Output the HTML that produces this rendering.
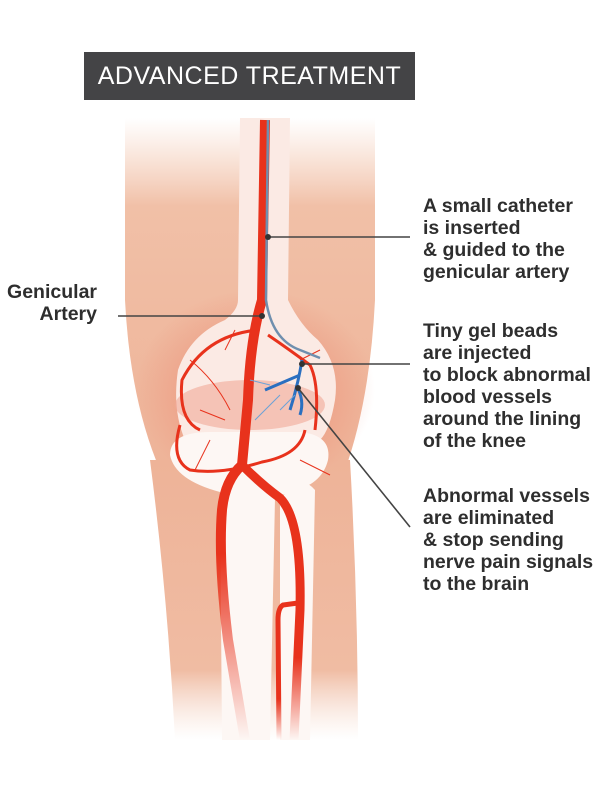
<!DOCTYPE html>
<html><head><style>
body{margin:0;width:600px;height:800px;background:#fff;position:relative;overflow:hidden;font-family:"Liberation Sans",sans-serif}
.t{position:absolute;font-weight:bold;font-size:19.5px;line-height:22px;color:#2e2e2e}
</style></head><body>
<svg width="600" height="800" style="position:absolute;left:0;top:0">
<defs>
<linearGradient id="fadeT" x1="0" y1="0" x2="0" y2="1"><stop offset="0" stop-color="#f3c9b3" stop-opacity="0"/><stop offset="0.25" stop-color="#f1c0a7"/><stop offset="1" stop-color="#eeb398"/></linearGradient>
<linearGradient id="fadeB" x1="0" y1="0" x2="0" y2="1"><stop offset="0" stop-color="#eeb398"/><stop offset="0.75" stop-color="#f0bca3"/><stop offset="1" stop-color="#f6ddd0" stop-opacity="0"/></linearGradient>
<linearGradient id="artB" x1="0" y1="0" x2="0" y2="1"><stop offset="0" stop-color="#e8321c"/><stop offset="0.7" stop-color="#e8321c"/><stop offset="1" stop-color="#e8321c" stop-opacity="0"/></linearGradient>
<radialGradient id="glow" cx="0.5" cy="0.5" r="0.5"><stop offset="0" stop-color="#e86a55" stop-opacity="0.6"/><stop offset="1" stop-color="#e86a55" stop-opacity="0"/></radialGradient>
</defs>
<path d="M125 118 L375 118 L375 300 Q370 400 345 470 L160 470 Q130 400 125 300 Z" fill="url(#fadeT)"/>
<path d="M150 460 L350 460 Q358 600 358 740 L175 740 Q168 600 150 460 Z" fill="url(#fadeB)"/>
<ellipse cx="255" cy="390" rx="120" ry="100" fill="url(#glow)"/>
<!-- femur -->
<path d="M240 118 L290 118 L288 300 Q300 325 318 340 Q340 365 335 400 Q330 430 320 440 L185 440 Q172 410 178 370 Q190 335 225 320 Q238 310 238 300 Z" fill="#fbeae4"/>
<ellipse cx="250" cy="405" rx="75" ry="25" fill="#f1a898" opacity="0.6"/>
<!-- tibia head -->
<path d="M170 455 Q170 432 210 432 L300 432 Q332 435 328 460 Q322 485 290 492 L275 498 L270 740 L222 740 L220 492 Q175 480 170 455 Z" fill="#fdf7f4"/>
<path d="M280 500 Q300 472 315 490 L310 740 L280 740 Z" fill="#fdf7f4"/>
<path d="M265 120 L262 300 Q250 340 248 400 L242 465 Q225 480 222 510 Q218 560 228 640 Q238 700 245 740" stroke="url(#artB)" stroke-width="10" fill="none"/>
<path d="M242 465 Q262 485 280 498 Q302 520 300 610 L294 740" stroke="url(#artB)" stroke-width="9" fill="none"/>
<path d="M298 603 L283 605 Q278 608 278 620 L279 740" stroke="url(#artB)" stroke-width="5" fill="none"/>
<g stroke="#e8321c" fill="none" stroke-width="3">
<path d="M258 330 Q205 335 182 380 Q178 420 200 430"/>
<path d="M180 425 Q170 460 190 470 Q220 475 262 462 Q300 455 305 430"/>
<path d="M268 335 Q290 350 310 365 Q320 385 315 430"/>
</g>
<g stroke="#e8321c" fill="none" stroke-width="1">
<path d="M190 360 Q215 380 230 410"/><path d="M200 410 L225 420"/><path d="M225 350 L235 330"/>
<path d="M300 460 Q320 470 330 475"/><path d="M195 470 L210 440"/><path d="M300 360 L320 350"/>
</g>
<path d="M268 120 L266 300 Q272 340 300 350 L320 358" stroke="#6f8fae" stroke-width="2.5" fill="none"/>
<g stroke="#2a6fc0" fill="none" stroke-width="3">
<path d="M302 360 Q298 385 290 410"/><path d="M300 375 L265 390"/><path d="M296 385 Q305 400 300 415"/>
</g>
<g stroke="#6aa2d8" fill="none" stroke-width="1"><path d="M280 395 L255 420"/><path d="M295 395 L280 410"/><path d="M270 385 L250 380"/></g>
<g stroke="#444" stroke-width="1.6">
<line x1="118" y1="316" x2="262" y2="316"/>
<line x1="268" y1="237" x2="410" y2="237"/>
<line x1="302" y1="364" x2="410" y2="364"/>
<line x1="298" y1="388" x2="410" y2="527"/>
</g>
<g fill="#333"><circle cx="262" cy="316" r="3"/><circle cx="268" cy="237" r="3"/><circle cx="302" cy="364" r="3"/><circle cx="298" cy="388" r="3"/></g>
</svg>
<div style="position:absolute;left:84px;top:52px;width:331px;height:48px;background:#444446;color:#fff;font-size:25px;line-height:48px;text-align:center;letter-spacing:0.5px">ADVANCED TREATMENT</div>
<div class="t" style="left:0;width:97px;text-align:right;top:281px">Genicular<br>Artery</div>
<div class="t" style="left:423px;top:195px">A small catheter<br>is inserted<br>&amp; guided to the<br>genicular artery</div>
<div class="t" style="left:423px;top:320px">Tiny gel beads<br>are injected<br>to block abnormal<br>blood vessels<br>around the lining<br>of the knee</div>
<div class="t" style="left:423px;top:485px">Abnormal vessels<br>are eliminated<br>&amp; stop sending<br>nerve pain signals<br>to the brain</div>
</body></html>
